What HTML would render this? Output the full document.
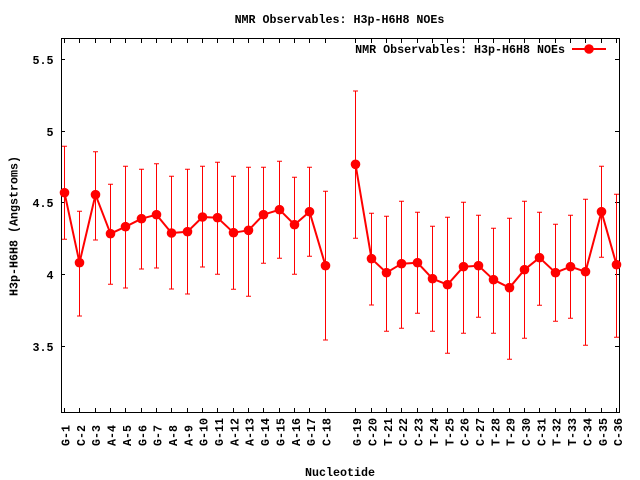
<!DOCTYPE html>
<html>
<head>
<meta charset="utf-8">
<style>
html,body{margin:0;padding:0;background:#fff;}
svg{display:block;}
text{font-family:"Liberation Mono","DejaVu Sans Mono",monospace;font-weight:bold;font-size:11.67px;fill:#000;}
</style>
</head>
<body>
<svg width="640" height="480" viewBox="0 0 640 480" xmlns="http://www.w3.org/2000/svg">
<rect x="0" y="0" width="640" height="480" fill="#fff"/>
<!-- title -->
<text x="339.5" y="23" text-anchor="middle">NMR Observables: H3p-H6H8 NOEs</text>
<!-- border -->
<rect x="61.5" y="38.5" width="558" height="374" fill="none" stroke="#000" stroke-width="1" shape-rendering="crispEdges"/>
<!-- y ticks -->
<g stroke="#000" stroke-width="1" shape-rendering="crispEdges">
<path d="M61 59.5H65M61 131.5H65M61 202.5H65M61 274.5H65M61 346.5H65"/>
<path d="M615 59.5H619M615 131.5H619M615 202.5H619M615 274.5H619M615 346.5H619"/>
</g>
<g text-anchor="end">
<text x="53.5" y="64">5.5</text>
<text x="53.5" y="136">5</text>
<text x="53.5" y="207">4.5</text>
<text x="53.5" y="279">4</text>
<text x="53.5" y="351">3.5</text>
</g>
<!-- y label -->
<text transform="translate(17.5,226) rotate(-90)" text-anchor="middle">H3p-H6H8 (Angstroms)</text>
<!-- x label -->
<text x="340" y="476" text-anchor="middle">Nucleotide</text>
<!-- x ticks -->
<g stroke="#000" stroke-width="1" shape-rendering="crispEdges" id="xt">
<path d="M64.5 408V412M79.5 408V412M95.5 408V412M110.5 408V412M125.5 408V412M141.5 408V412M156.5 408V412M171.5 408V412M187.5 408V412M202.5 408V412M217.5 408V412M233.5 408V412M248.5 408V412M263.5 408V412M279.5 408V412M294.5 408V412M309.5 408V412M325.5 408V412M355.5 408V412M371.5 408V412M386.5 408V412M401.5 408V412M417.5 408V412M432.5 408V412M447.5 408V412M463.5 408V412M478.5 408V412M493.5 408V412M509.5 408V412M524.5 408V412M539.5 408V412M555.5 408V412M570.5 408V412M585.5 408V412M601.5 408V412M616.5 408V412"/>
<path d="M64.5 39V43M79.5 39V43M95.5 39V43M110.5 39V43M125.5 39V43M141.5 39V43M156.5 39V43M171.5 39V43M187.5 39V43M202.5 39V43M217.5 39V43M233.5 39V43M248.5 39V43M263.5 39V43M279.5 39V43M294.5 39V43M309.5 39V43M325.5 39V43M355.5 39V43M371.5 39V43M386.5 39V43M401.5 39V43M417.5 39V43M432.5 39V43M447.5 39V43M463.5 39V43M478.5 39V43M493.5 39V43M509.5 39V43M524.5 39V43M539.5 39V43M555.5 39V43M570.5 39V43M585.5 39V43M601.5 39V43M616.5 39V43"/>
</g>
<!-- x tick labels -->
<g text-anchor="start">
<text transform="translate(69.5,446) rotate(-90)">G-1</text>
<text transform="translate(84.9,446) rotate(-90)">C-2</text>
<text transform="translate(100.2,446) rotate(-90)">G-3</text>
<text transform="translate(115.6,446) rotate(-90)">A-4</text>
<text transform="translate(130.9,446) rotate(-90)">A-5</text>
<text transform="translate(146.3,446) rotate(-90)">G-6</text>
<text transform="translate(161.6,446) rotate(-90)">G-7</text>
<text transform="translate(177,446) rotate(-90)">A-8</text>
<text transform="translate(192.3,446) rotate(-90)">A-9</text>
<text transform="translate(207.7,446) rotate(-90)">G-10</text>
<text transform="translate(223,446) rotate(-90)">G-11</text>
<text transform="translate(238.4,446) rotate(-90)">A-12</text>
<text transform="translate(253.7,446) rotate(-90)">A-13</text>
<text transform="translate(269.1,446) rotate(-90)">G-14</text>
<text transform="translate(284.4,446) rotate(-90)">G-15</text>
<text transform="translate(299.8,446) rotate(-90)">A-16</text>
<text transform="translate(315.1,446) rotate(-90)">G-17</text>
<text transform="translate(330.5,446) rotate(-90)">C-18</text>
<text transform="translate(361.2,446) rotate(-90)">G-19</text>
<text transform="translate(376.5,446) rotate(-90)">C-20</text>
<text transform="translate(391.9,446) rotate(-90)">T-21</text>
<text transform="translate(407.2,446) rotate(-90)">C-22</text>
<text transform="translate(422.6,446) rotate(-90)">C-23</text>
<text transform="translate(437.9,446) rotate(-90)">T-24</text>
<text transform="translate(453.3,446) rotate(-90)">T-25</text>
<text transform="translate(468.6,446) rotate(-90)">C-26</text>
<text transform="translate(484,446) rotate(-90)">C-27</text>
<text transform="translate(499.3,446) rotate(-90)">T-28</text>
<text transform="translate(514.7,446) rotate(-90)">T-29</text>
<text transform="translate(530,446) rotate(-90)">C-30</text>
<text transform="translate(545.4,446) rotate(-90)">C-31</text>
<text transform="translate(560.7,446) rotate(-90)">T-32</text>
<text transform="translate(576.1,446) rotate(-90)">T-33</text>
<text transform="translate(591.4,446) rotate(-90)">C-34</text>
<text transform="translate(606.8,446) rotate(-90)">G-35</text>
<text transform="translate(622.2,446) rotate(-90)">C-36</text>
</g>
<!-- error bars -->
<g stroke="#ff0000" stroke-width="1" fill="none">
<path d="M64.5 146.3V239.3M62 146.3H67M62 239.3H67"/>
<path d="M79.5 211.3V316M77 211.3H82M77 316H82"/>
<path d="M95.5 151.7V240M93 151.7H98M93 240H98"/>
<path d="M110.5 184.3V284.3M108 184.3H113M108 284.3H113"/>
<path d="M125.5 166.3V288M123 166.3H128M123 288H128"/>
<path d="M141.5 169.3V269M139 169.3H144M139 269H144"/>
<path d="M156.5 163.7V268M154 163.7H159M154 268H159"/>
<path d="M171.5 176.3V289M169 176.3H174M169 289H174"/>
<path d="M187.5 169.3V294M185 169.3H190M185 294H190"/>
<path d="M202.5 166.3V267M200 166.3H205M200 267H205"/>
<path d="M217.5 162.3V274.3M215 162.3H220M215 274.3H220"/>
<path d="M233.5 176.3V289.3M231 176.3H236M231 289.3H236"/>
<path d="M248.5 167.3V296.3M246 167.3H251M246 296.3H251"/>
<path d="M263.5 167.3V263.3M261 167.3H266M261 263.3H266"/>
<path d="M279.5 161.3V258.3M277 161.3H282M277 258.3H282"/>
<path d="M294.5 177.3V274.3M292 177.3H297M292 274.3H297"/>
<path d="M309.5 167.3V256.3M307 167.3H312M307 256.3H312"/>
<path d="M325.5 191.3V340M323 191.3H328M323 340H328"/>
<path d="M355.5 91V238.3M353 91H358M353 238.3H358"/>
<path d="M371.5 213.3V305M369 213.3H374M369 305H374"/>
<path d="M386.5 216.3V331.3M384 216.3H389M384 331.3H389"/>
<path d="M401.5 201.3V328.3M399 201.3H404M399 328.3H404"/>
<path d="M417.5 212.3V313.3M415 212.3H420M415 313.3H420"/>
<path d="M432.5 226.3V331.3M430 226.3H435M430 331.3H435"/>
<path d="M447.5 217.3V353.3M445 217.3H450M445 353.3H450"/>
<path d="M463.5 202.3V333.3M461 202.3H466M461 333.3H466"/>
<path d="M478.5 215.3V317.3M476 215.3H481M476 317.3H481"/>
<path d="M493.5 228.3V333.3M491 228.3H496M491 333.3H496"/>
<path d="M509.5 218.3V359.3M507 218.3H512M507 359.3H512"/>
<path d="M524.5 201.3V338.3M522 201.3H527M522 338.3H527"/>
<path d="M539.5 212.3V305.3M537 212.3H542M537 305.3H542"/>
<path d="M555.5 224.3V321.3M553 224.3H558M553 321.3H558"/>
<path d="M570.5 215.3V318.3M568 215.3H573M568 318.3H573"/>
<path d="M585.5 199.3V345.3M583 199.3H588M583 345.3H588"/>
<path d="M601.5 166.3V257.3M599 166.3H604M599 257.3H604"/>
<path d="M616.5 194.3V337.3M614 194.3H619M614 337.3H619"/>
</g>
<!-- connecting lines -->
<g stroke="#ff0000" stroke-width="2" fill="none" stroke-linejoin="round">
<polyline points="64.5,192.7 79.5,262.7 95.5,194.7 110.5,233.7 125.5,226.7 141.5,218.7 156.5,214.7 171.5,233 187.5,231.7 202.5,217 217.5,217.7 233.5,232.7 248.5,230.3 263.5,214.7 279.5,209.7 294.5,224.7 309.5,211.7 325.5,265.7"/>
<polyline points="355.5,164.3 371.5,258.7 386.5,272.7 401.5,263.7 417.5,262.7 432.5,278.7 447.5,284.7 463.5,266.7 478.5,265.7 493.5,279.7 509.5,287.7 524.5,269.7 539.5,257.7 555.5,272.7 570.5,266.7 585.5,271.7 601.5,211.7 616.5,264.7"/>
</g>
<!-- markers -->
<g fill="#ff0000">
<circle cx="64.5" cy="192.7" r="4.8"/>
<circle cx="79.5" cy="262.7" r="4.8"/>
<circle cx="95.5" cy="194.7" r="4.8"/>
<circle cx="110.5" cy="233.7" r="4.8"/>
<circle cx="125.5" cy="226.7" r="4.8"/>
<circle cx="141.5" cy="218.7" r="4.8"/>
<circle cx="156.5" cy="214.7" r="4.8"/>
<circle cx="171.5" cy="233" r="4.8"/>
<circle cx="187.5" cy="231.7" r="4.8"/>
<circle cx="202.5" cy="217" r="4.8"/>
<circle cx="217.5" cy="217.7" r="4.8"/>
<circle cx="233.5" cy="232.7" r="4.8"/>
<circle cx="248.5" cy="230.3" r="4.8"/>
<circle cx="263.5" cy="214.7" r="4.8"/>
<circle cx="279.5" cy="209.7" r="4.8"/>
<circle cx="294.5" cy="224.7" r="4.8"/>
<circle cx="309.5" cy="211.7" r="4.8"/>
<circle cx="325.5" cy="265.7" r="4.8"/>
<circle cx="355.5" cy="164.3" r="4.8"/>
<circle cx="371.5" cy="258.7" r="4.8"/>
<circle cx="386.5" cy="272.7" r="4.8"/>
<circle cx="401.5" cy="263.7" r="4.8"/>
<circle cx="417.5" cy="262.7" r="4.8"/>
<circle cx="432.5" cy="278.7" r="4.8"/>
<circle cx="447.5" cy="284.7" r="4.8"/>
<circle cx="463.5" cy="266.7" r="4.8"/>
<circle cx="478.5" cy="265.7" r="4.8"/>
<circle cx="493.5" cy="279.7" r="4.8"/>
<circle cx="509.5" cy="287.7" r="4.8"/>
<circle cx="524.5" cy="269.7" r="4.8"/>
<circle cx="539.5" cy="257.7" r="4.8"/>
<circle cx="555.5" cy="272.7" r="4.8"/>
<circle cx="570.5" cy="266.7" r="4.8"/>
<circle cx="585.5" cy="271.7" r="4.8"/>
<circle cx="601.5" cy="211.7" r="4.8"/>
<circle cx="616.5" cy="264.7" r="4.8"/>
</g>
<!-- legend -->
<text x="565" y="53" text-anchor="end">NMR Observables: H3p-H6H8 NOEs</text>
<line x1="572" y1="49" x2="606" y2="49" stroke="#ff0000" stroke-width="2"/>
<circle cx="589" cy="49" r="4.8" fill="#ff0000"/>
</svg>
</body>
</html>
